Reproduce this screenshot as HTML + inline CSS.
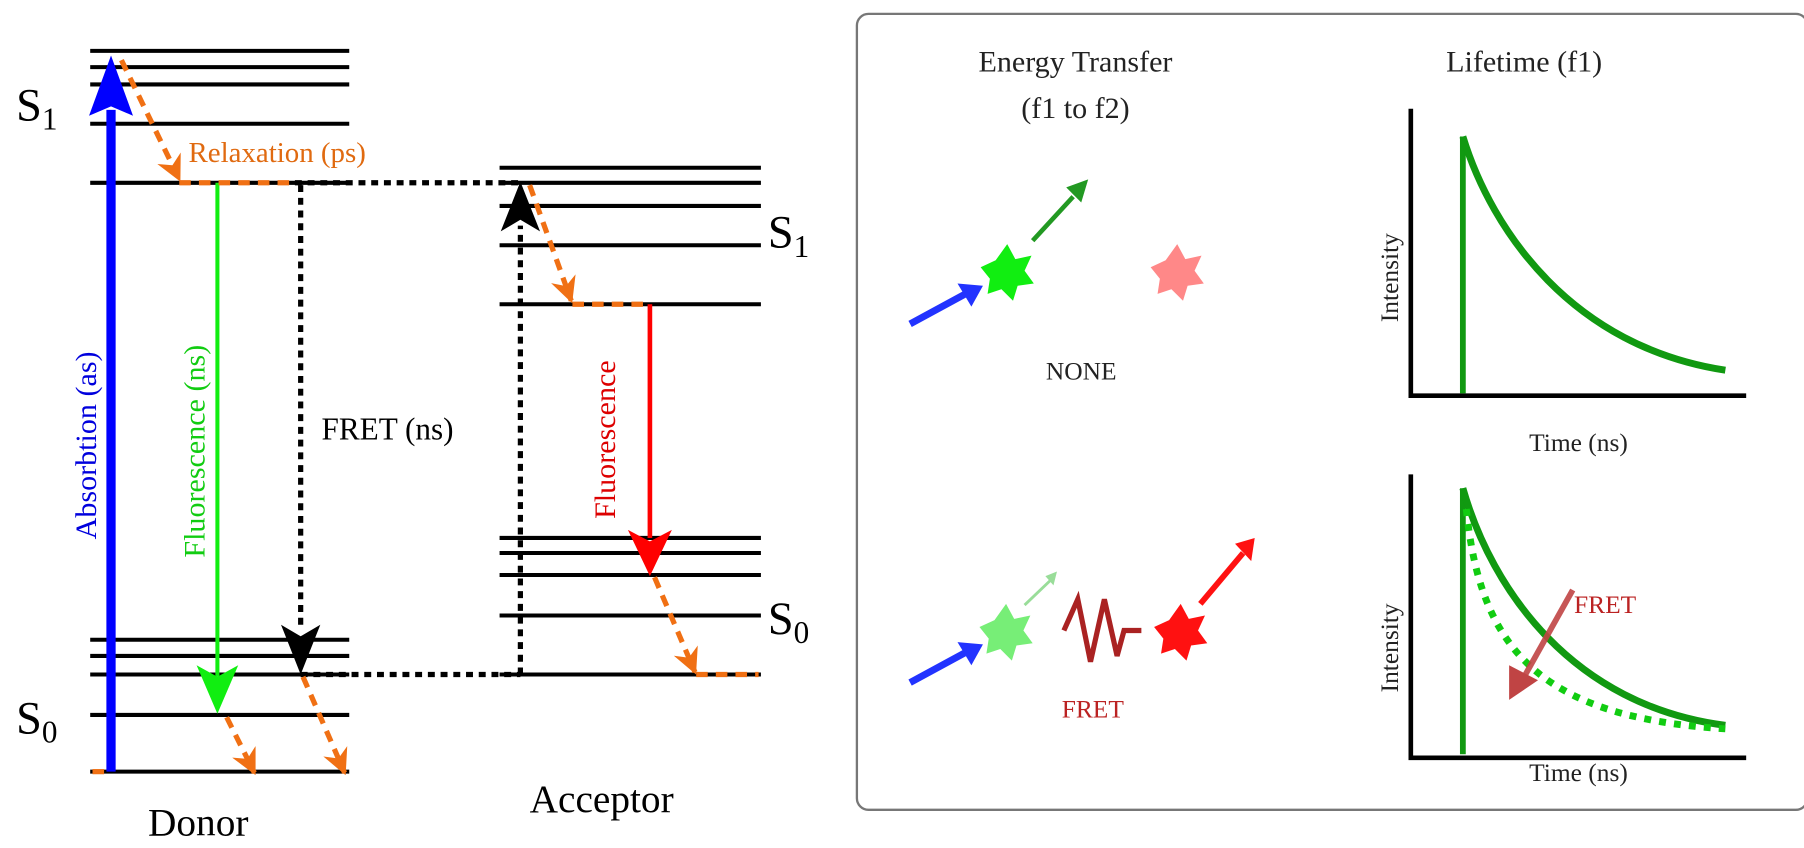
<!DOCTYPE html>
<html><head><meta charset="utf-8"><style>
html,body{margin:0;padding:0;background:#fff;}
svg{display:block;}
text{font-family:"Liberation Serif",serif;}
</style></head><body>
<svg width="1804" height="848" viewBox="0 0 1560 733" preserveAspectRatio="none" xmlns="http://www.w3.org/2000/svg">
<defs>
<marker id="ao" viewBox="0 0 10 10" refX="9" refY="5" markerWidth="5" markerHeight="5" orient="auto"><path d="M0,0 L10,5 L0,10 L3,5z" fill="#f07014"/></marker>
<polygon id="star" points="0,-24 7,-11 21,-14 15,-1 23,10 9,12 5,25 -5,15 -17,19 -15,6 -23,-4 -10,-10"/>
</defs>
<g stroke="#000" stroke-width="3.5">
<line x1="78" y1="44" x2="302" y2="44"/><line x1="78" y1="58" x2="302" y2="58"/><line x1="78" y1="73" x2="302" y2="73"/><line x1="78" y1="107" x2="302" y2="107"/><line x1="78" y1="158" x2="302" y2="158"/>
<line x1="78" y1="553" x2="302" y2="553"/><line x1="78" y1="567" x2="302" y2="567"/><line x1="78" y1="583" x2="302" y2="583"/><line x1="78" y1="618" x2="302" y2="618"/><line x1="78" y1="667" x2="302" y2="667"/>
<line x1="432" y1="145" x2="658" y2="145"/><line x1="432" y1="158" x2="658" y2="158"/><line x1="432" y1="178" x2="658" y2="178"/><line x1="432" y1="212" x2="658" y2="212"/><line x1="432" y1="263" x2="658" y2="263"/>
<line x1="432" y1="465" x2="658" y2="465"/><line x1="432" y1="478" x2="658" y2="478"/><line x1="432" y1="497" x2="658" y2="497"/><line x1="432" y1="532" x2="658" y2="532"/><line x1="432" y1="583" x2="658" y2="583"/>
</g>
<text x="14" y="104" font-size="40">S<tspan font-size="27" dy="8">1</tspan></text>
<text x="14" y="634" font-size="40">S<tspan font-size="27" dy="8">0</tspan></text>
<text x="664" y="214" font-size="40">S<tspan font-size="27" dy="8">1</tspan></text>
<text x="664" y="548" font-size="40">S<tspan font-size="27" dy="8">0</tspan></text>
<g stroke="#000" stroke-width="4.5" stroke-dasharray="6,5" fill="none">
<line x1="255" y1="158" x2="450" y2="158"/>
<line x1="260" y1="160" x2="260" y2="545"/>
<line x1="260" y1="583" x2="450" y2="583"/>
<line x1="450" y1="583" x2="450" y2="195"/>
</g>
<path d="M243,540 L260,583 L277,540 L260,550z" fill="#000"/>
<path d="M433,200 L450,157 L467,200 L450,190z" fill="#000"/>
<line x1="96" y1="667" x2="96" y2="95" stroke="#0000ff" stroke-width="8"/>
<path d="M77,100 L96,48 L115,100 L96,92z" fill="#0000ff"/>
<line x1="188" y1="158" x2="188" y2="585" stroke="#11ee11" stroke-width="3.5"/>
<path d="M170,575 L188,617 L206,575 L188,585z" fill="#11ee11"/>
<line x1="562" y1="263" x2="562" y2="465" stroke="#ff0000" stroke-width="4"/>
<path d="M543,458 L562,498 L581,458 L562,468z" fill="#ff0000"/>
<g stroke="#f07014" stroke-width="4.5" stroke-dasharray="10,7" fill="none" marker-end="url(#ao)">
<line x1="105" y1="52" x2="155" y2="155"/>
<line x1="458" y1="160" x2="494" y2="260"/>
<line x1="196" y1="620" x2="220" y2="668"/>
<line x1="262" y1="585" x2="298" y2="668"/>
<line x1="566" y1="499" x2="601" y2="581"/>
</g>
<g stroke="#f07014" stroke-width="4.5" stroke-dasharray="10,7">
<line x1="155" y1="158" x2="256" y2="158"/>
<line x1="495" y1="263" x2="562" y2="263"/>
<line x1="602" y1="583" x2="656" y2="583"/>
<line x1="80" y1="667" x2="96" y2="667"/>
</g>
<text x="163" y="140" font-size="25" fill="#e06a10">Relaxation (ps)</text>
<text x="278" y="380" font-size="27">FRET (ns)</text>
<text transform="translate(83,385) rotate(-90)" font-size="26" fill="#0000dd" text-anchor="middle">Absorbtion (as)</text>
<text transform="translate(177,390) rotate(-90)" font-size="26" fill="#11cc11" text-anchor="middle">Fluorescence (ns)</text>
<text transform="translate(532,380) rotate(-90)" font-size="26" fill="#dd0000" text-anchor="middle">Fluorescence</text>
<text x="128" y="722" font-size="34">Donor</text>
<text x="458" y="702" font-size="34">Acceptor</text>
<rect x="741" y="12" width="822" height="688" rx="10" fill="none" stroke="#777" stroke-width="2"/>
<text x="930" y="62" font-size="26" text-anchor="middle" fill="#222">Energy Transfer</text>
<text x="930" y="102" font-size="26" text-anchor="middle" fill="#222">(f1 to f2)</text>
<text x="1318" y="62" font-size="26" text-anchor="middle" fill="#222">Lifetime (f1)</text>
<line x1="787" y1="280" x2="835" y2="254" stroke="#2233ff" stroke-width="6"/>
<path d="M828,245 L850,247 L840,265z" fill="#2233ff"/>
<use href="#star" fill="#11ee11" transform="translate(871,235)"/>
<line x1="893" y1="208" x2="928" y2="170" stroke="#229922" stroke-width="4"/>
<path d="M922,162 L941,155 L935,175z" fill="#229922"/>
<use href="#star" fill="#ff8888" transform="translate(1018,235)"/>
<text x="935" y="328" font-size="22" text-anchor="middle" fill="#222">NONE</text>
<line x1="787" y1="590" x2="835" y2="564" stroke="#2233ff" stroke-width="6"/>
<path d="M828,555 L850,557 L840,575z" fill="#2233ff"/>
<use href="#star" fill="#77ee77" transform="translate(870,546)"/>
<line x1="886" y1="523" x2="908" y2="502" stroke="#99dd99" stroke-width="2.5"/>
<path d="M904,498 L914,494 L911,506z" fill="#99dd99"/>
<polyline points="920,545 932,518 943,572 955,518 966,567 972,545 987,545" fill="none" stroke="#aa2222" stroke-width="4.5"/>
<use href="#star" fill="#ff1111" transform="translate(1021,546)"/>
<line x1="1038" y1="522" x2="1075" y2="478" stroke="#ff1111" stroke-width="5"/>
<path d="M1068,470 L1085,465 L1082,485z" fill="#ff1111"/>
<text x="945" y="620" font-size="22" text-anchor="middle" fill="#bb2222">FRET</text>
<polyline points="1220,94 1220,342 1510,342" fill="none" stroke="#000" stroke-width="4"/>
<line x1="1265" y1="340" x2="1265" y2="118" stroke="#119911" stroke-width="5"/>
<path d="M1265,118 C1290,200 1360,300 1492,320" fill="none" stroke="#119911" stroke-width="6"/>
<text transform="translate(1209,240) rotate(-90)" font-size="22" text-anchor="middle" fill="#222">Intensity</text>
<text x="1365" y="390" font-size="22" text-anchor="middle" fill="#222">Time (ns)</text>
<polyline points="1220,410 1220,655 1510,655" fill="none" stroke="#000" stroke-width="4"/>
<line x1="1265" y1="652" x2="1265" y2="422" stroke="#119911" stroke-width="5"/>
<path d="M1265,422 C1290,510 1360,610 1492,627" fill="none" stroke="#119911" stroke-width="6"/>
<path d="M1268,440 C1280,560 1330,620 1492,630" fill="none" stroke="#11cc11" stroke-width="6" stroke-dasharray="6,7"/>
<line x1="1360" y1="510" x2="1318" y2="585" stroke="#c04444" stroke-width="5" opacity="0.9"/>
<path d="M1305,605 L1305,575 L1330,588z" fill="#c04444"/>
<text x="1388" y="530" font-size="22" text-anchor="middle" fill="#bb2222">FRET</text>
<text transform="translate(1209,560) rotate(-90)" font-size="22" text-anchor="middle" fill="#222">Intensity</text>
<text x="1365" y="675" font-size="22" text-anchor="middle" fill="#222">Time (ns)</text>
</svg>
</body></html>
